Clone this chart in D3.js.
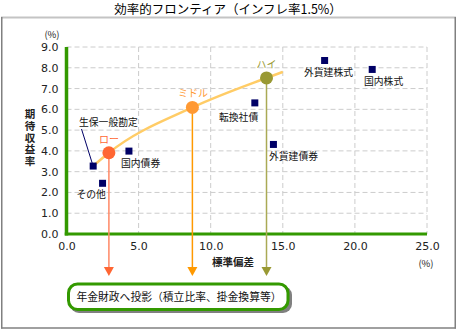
<!DOCTYPE html>
<html><head><meta charset="utf-8">
<script src="https://cdn.jsdelivr.net/npm/d3@7/dist/d3.min.js"></script>
<style>body{margin:0;background:#fff}svg{display:block}</style>
</head><body>
<svg id="c" width="457" height="330"></svg>
<script>
const title = "効率的フロンティア（インフレ率1.5%）";
const xTicks = [0, 5, 10, 15, 20, 25];
const yTicks = [0, 1, 2, 3, 4, 5, 6, 7, 8, 9];
const assetNames = ["生保一般勘定", "その他", "国内債券", "転換社債", "外貨建債券", "外貨建株式", "国内株式"];
const assetRisk =  [1.85, 2.5, 4.33, 13.06, 14.35, 17.9, 21.2];
const assetReturn = [3.27, 2.44, 3.99, 6.31, 4.31, 8.35, 7.92];
const portNames = ["ロー", "ミドル", "ハイ"];
const portRisk = [2.94, 8.73, 13.87];
const portReturn = [3.91, 6.09, 7.51];
const frontierRisk = [1.85, 2.94, 8.73, 13.87, 15.0];
const frontierReturn = [3.27, 3.91, 6.09, 7.51, 7.8];
const boxText = "年金財政へ投影（積立比率、掛金換算等）";

const svg = d3.select("#c");
const JP = "'Noto Sans CJK JP', sans-serif";
const NUM = "'DejaVu Sans', Verdana, sans-serif";
const x = d3.scaleLinear().domain([0, 25]).range([66.5, 427]);
const y = d3.scaleLinear().domain([0, 9]).range([234, 47]);

// frame
svg.append("rect").attr("x", 1).attr("y", 16.5).attr("width", 455).attr("height", 2).attr("fill", "#c4c4c4");
svg.append("line").attr("x1", 1.75).attr("x2", 1.75).attr("y1", 17).attr("y2", 328.5).attr("stroke", "#808080").attr("stroke-width", 1.5);
svg.append("line").attr("x1", 455.25).attr("x2", 455.25).attr("y1", 17).attr("y2", 328.5).attr("stroke", "#808080").attr("stroke-width", 1.5);
svg.append("line").attr("x1", 1).attr("x2", 456).attr("y1", 328).attr("y2", 328).attr("stroke", "#808080").attr("stroke-width", 1.5);

// title
svg.append("text").attr("x", 228).attr("y", 13.5).attr("text-anchor", "middle")
  .attr("font-family", JP).attr("font-size", 12.5).attr("fill", "#000").text(title);

// grid
const g = svg.append("g");
g.selectAll(".hg").data(yTicks.filter(d => d > 0)).enter().append("line")
  .attr("x1", x(0)).attr("x2", x(25)).attr("y1", d => y(d)).attr("y2", d => y(d))
  .attr("stroke", "#cccccc").attr("stroke-width", 1).attr("stroke-dasharray", "5,3");
g.selectAll(".vg").data(xTicks.filter(d => d > 0)).enter().append("line")
  .attr("x1", d => x(d)).attr("x2", d => x(d)).attr("y1", y(9)).attr("y2", y(0))
  .attr("stroke", "#cccccc").attr("stroke-width", 1).attr("stroke-dasharray", "5,3");

// axes via d3 axis, then restyle
const yAxis = svg.append("g").attr("transform", `translate(${x(0)},0)`)
  .call(d3.axisLeft(y).tickValues(yTicks).tickFormat(d3.format(".1f")).tickSize(0).tickPadding(8));
const xAxis = svg.append("g").attr("transform", `translate(0,${y(0)})`)
  .call(d3.axisBottom(x).tickValues(xTicks).tickFormat(d3.format(".1f")).tickSize(0).tickPadding(8));
[yAxis, xAxis].forEach(a => {
  a.select(".domain").remove();
  a.selectAll("text").attr("font-family", NUM).attr("font-size", 11).attr("fill", "#222");
});
svg.append("line").attr("x1", x(0)).attr("x2", x(0)).attr("y1", y(9)).attr("y2", y(0) + 1.5)
  .attr("stroke", "#339900").attr("stroke-width", 3.5);
svg.append("line").attr("x1", x(0) - 1.75).attr("x2", x(25)).attr("y1", y(0)).attr("y2", y(0))
  .attr("stroke", "#339900").attr("stroke-width", 3);

// axis labels
svg.append("text").attr("x", 52).attr("y", 37.5).attr("text-anchor", "middle")
  .attr("font-family", JP).attr("font-size", 9.5).attr("fill", "#222").text("(%)");
svg.append("text").attr("x", 30).attr("y", 109).attr("text-anchor", "start")
  .style("writing-mode", "vertical-rl").attr("letter-spacing", 1.2)
  .attr("font-family", JP).attr("font-size", 10.5).attr("font-weight", "bold").attr("fill", "#222").text("期待収益率");
svg.append("text").attr("x", 233).attr("y", 266).attr("text-anchor", "middle")
  .attr("font-family", JP).attr("font-size", 10.5).attr("font-weight", "bold").attr("fill", "#222").text("標準偏差");
svg.append("text").attr("x", 426).attr("y", 267).attr("text-anchor", "middle")
  .attr("font-family", JP).attr("font-size", 9.5).attr("fill", "#222").text("(%)");

// frontier curve
const fr = frontierRisk.map((d, i) => [d, frontierReturn[i]]);
svg.append("path").datum(fr)
  .attr("d", d3.line().x(d => x(d[0])).y(d => y(d[1])).curve(d3.curveMonotoneX))
  .attr("fill", "none").attr("stroke", "#ffcc66").attr("stroke-width", 2.5);

// leader line for 生保一般勘定
svg.append("line").attr("x1", 81.5).attr("y1", 129).attr("x2", x(assetRisk[0]) - 1).attr("y2", y(assetReturn[0]) - 3)
  .attr("stroke", "#000066").attr("stroke-width", 1);

// vertical drop lines + arrows
const lineCols = ["#ff8866", "#ff9900", "#aaaa55"];
const arrowCols = ["#ff6633", "#ff9900", "#999933"];
const dotCols = ["#ff6633", "#ff9933", "#999933"];
const labCols = ["#ff6633", "#ff9933", "#999933"];
const arrowTop = 267, arrowTip = 276;
portRisk.forEach((r, i) => {
  const cx = x(r);
  svg.append("line").attr("x1", cx).attr("x2", cx).attr("y1", y(portReturn[i])).attr("y2", arrowTop)
    .attr("stroke", lineCols[i]).attr("stroke-width", 1.5);
  svg.append("path").attr("d", `M${cx - 5},${arrowTop}L${cx + 5},${arrowTop}L${cx},${arrowTip}Z`).attr("fill", arrowCols[i]);
});

// assets
svg.selectAll(".a").data(assetRisk).enter().append("rect")
  .attr("x", (d) => x(d) - 3.5).attr("y", (d, i) => y(assetReturn[i]) - 3.5)
  .attr("width", 7).attr("height", 7).attr("fill", "#000066");
const assetLab = [[79, 126, "start"], [76.5, 198, "start"], [121, 167, "start"], [219, 121, "start"], [269, 160, "start"], [304, 76, "start"], [364, 85, "start"]];
assetNames.forEach((n, i) => {
  svg.append("text").attr("x", assetLab[i][0]).attr("y", assetLab[i][1]).attr("text-anchor", assetLab[i][2])
    .attr("font-family", JP).attr("font-size", 9.8).attr("fill", "#111").text(n);
});

// portfolios
portRisk.forEach((r, i) => {
  svg.append("circle").attr("cx", x(r)).attr("cy", y(portReturn[i])).attr("r", 6.5).attr("fill", dotCols[i]);
});
const portLab = [[109, 143], [193, 97], [266.5, 68]];
portNames.forEach((n, i) => {
  svg.append("text").attr("x", portLab[i][0]).attr("y", portLab[i][1]).attr("text-anchor", "middle")
    .attr("font-family", JP).attr("font-size", 10).attr("fill", labCols[i]).text(n);
});

// box
svg.append("rect").attr("x", 70).attr("y", 286).attr("width", 222).attr("height", 27).attr("rx", 9)
  .attr("fill", "#808080");
svg.append("rect").attr("x", 68.5).attr("y", 284).attr("width", 219.5).attr("height", 25.5).attr("rx", 9)
  .attr("fill", "#fff").attr("stroke", "#339900").attr("stroke-width", 3);
svg.append("text").attr("x", 179).attr("y", 300.5).attr("text-anchor", "middle")
  .attr("font-family", JP).attr("font-size", 10.8).attr("fill", "#111").text(boxText);
</script>
</body></html>
